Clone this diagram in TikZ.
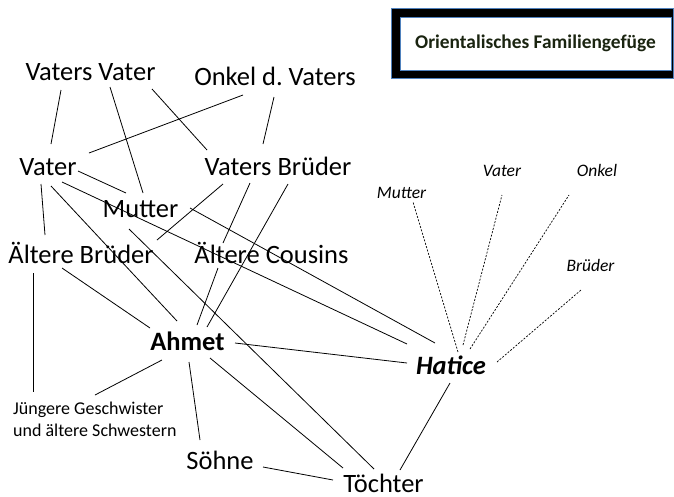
\documentclass[tikz,border=0pt]{standalone}
\usepackage{fontspec}
\setmainfont{Carlito}
\frenchspacing
\definecolor{boxblue}{HTML}{4F81BD}
\definecolor{titlecol}{HTML}{1A2410}
\begin{document}
\begin{tikzpicture}[x=1pt,y=-1pt,
  big/.style={anchor=base,inner sep=0pt,font=\fontsize{26.5}{31}\selectfont},
  lab/.style={anchor=base,inner sep=0pt,font=\fontsize{17.5}{21}\selectfont\itshape},
  link/.style={line width=0.8pt},
  dlink/.style={line width=0.7pt,dash pattern=on 2pt off 1.5pt},
]
\useasboundingbox (0,0) rectangle (674,496);
% title box
\fill[black] (391,8) rectangle (674,78);
\draw[boxblue,line width=0.8pt] (391,8) rectangle (673.5,78);
\filldraw[fill=white,draw=boxblue,line width=0.8pt] (400,17) rectangle (671,70);
\node[anchor=base,inner sep=0pt,font=\fontsize{19.4}{23}\selectfont\bfseries,text=titlecol] (title) at (535.5,48) {Orientalisches Familiengefüge};
% nodes
\node[big] (vv) at (90.5,80) {Vaters Vater};
\node[big] (ov) at (275,85) {Onkel d. Vaters};
\node[big] (va) at (48,175) {Vater};
\node[big] (vb) at (278,175) {Vaters Brüder};
\node[big] (mu) at (140.5,217) {Mutter};
\node[big] (ab) at (81,263) {Ältere Brüder};
\node[big] (ac) at (271.5,263) {Ältere Cousins};
\node[big,font=\fontsize{26.5}{31}\selectfont\bfseries] (ah) at (187.5,350) {Ahmet};
\node[big,font=\fontsize{26.5}{31}\selectfont\bfseries\itshape] (ha) at (451,374) {Hatice};
\node[anchor=base west,inner sep=0pt,align=left,font=\fontsize{18}{21.5}\selectfont] (jg) at (13,436) {Jüngere Geschwister\\und ältere Schwestern};
\node[big] (so) at (220,469) {Söhne};
\node[big] (to) at (383.5,492) {Töchter};
\node[lab] (im) at (401.5,198) {Mutter};
\node[lab] (iv) at (502,176) {Vater};
\node[lab] (io) at (597,176) {Onkel};
\node[lab] (ib) at (590.5,271) {Brüder};
% connectors
\draw[link] ([shift={(-29.5,10)}]vv.base) -- ([shift={(3,-31)}]va.base);
\draw[link] ([shift={(19.5,7)}]vv.base) -- ([shift={(2.5,-24)}]mu.base);
\draw[link] ([shift={(61.5,9)}]vv.base) -- ([shift={(-71,-25)}]vb.base);
\draw[link] ([shift={(-32,10)}]ov.base) -- ([shift={(41,-22)}]va.base);
\draw[link] ([shift={(-1,12)}]ov.base) -- ([shift={(-15,-31)}]vb.base);
\draw[link] ([shift={(30,-4)}]va.base) -- ([shift={(-14.5,-24)}]mu.base);
\draw[link] ([shift={(14,7)}]va.base) -- ([shift={(-44,-30)}]ha.base);
\draw[link] ([shift={(49.5,-9)}]mu.base) -- ([shift={(-16,-31)}]ha.base);
\draw[link] ([shift={(-7,9)}]va.base) -- ([shift={(-36,-28)}]ab.base);
\draw[link] ([shift={(3,11)}]va.base) -- ([shift={(-10.5,-29)}]ah.base);
\draw[link] ([shift={(-55,9)}]vb.base) -- ([shift={(76,-23)}]ab.base);
\draw[link] ([shift={(-28,8)}]vb.base) -- ([shift={(-48.5,-20)}]ac.base);
\draw[link] ([shift={(-53.5,5)}]ac.base) -- ([shift={(9.5,-25)}]ah.base);
\draw[link] ([shift={(10,9)}]vb.base) -- ([shift={(19.5,-23)}]ah.base);
\draw[link] ([shift={(-11.5,12)}]mu.base) -- ([shift={(-9.5,-23)}]to.base);
\draw[link] ([shift={(-19,5)}]ab.base) -- ([shift={(-37.5,-22)}]ah.base);
\draw[link] ([shift={(-48,10)}]ab.base) -- ([shift={(20,-44)}]jg.base west);
\draw[link] ([shift={(47.5,-7)}]ah.base) -- ([shift={(-44,-11)}]ha.base);
\draw[link] ([shift={(-25.5,10)}]ah.base) -- ([shift={(82,-41)}]jg.base west);
\draw[link] ([shift={(1.5,12)}]ah.base) -- ([shift={(-20,-29)}]so.base);
\draw[link] ([shift={(22.5,8)}]ah.base) -- ([shift={(-40.5,-24)}]to.base);
\draw[link] ([shift={(43,-2)}]so.base) -- ([shift={(-50.5,-12)}]to.base);
\draw[link] ([shift={(-1,9)}]ha.base) -- ([shift={(16.5,-22)}]to.base);
\draw[dlink] ([shift={(7,-22)}]ha.base) -- ([shift={(11.5,4)}]im.base);
\draw[dlink] ([shift={(12,-29)}]ha.base) -- ([shift={(0,19)}]iv.base);
\draw[dlink] ([shift={(19,-25)}]ha.base) -- ([shift={(-28,19)}]io.base);
\draw[dlink] ([shift={(46,-12)}]ha.base) -- ([shift={(-9.5,19)}]ib.base);
\end{tikzpicture}
\end{document}
